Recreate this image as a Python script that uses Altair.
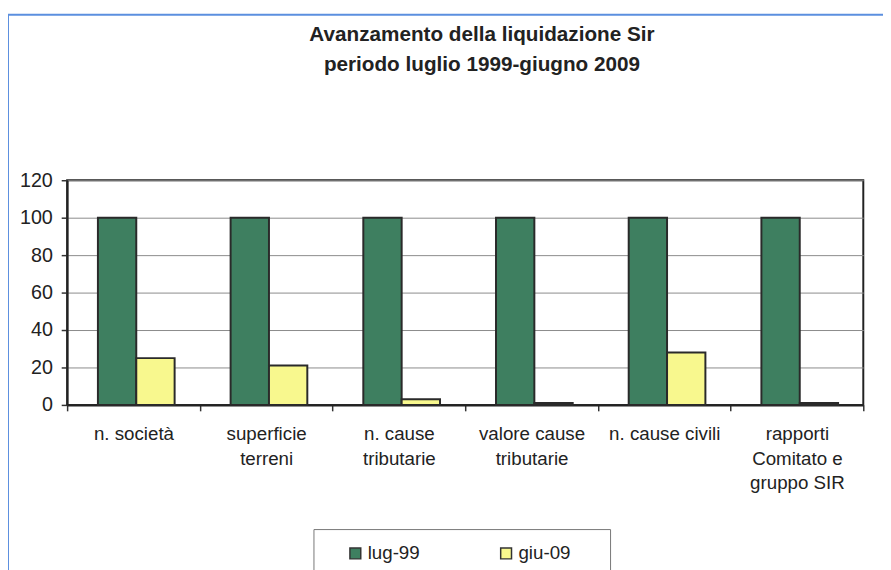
import altair as alt
import pandas as pd

categories = ["n. società", "superficie|terreni", "n. cause|tributarie",
              "valore cause|tributarie", "n. cause civili", "rapporti|Comitato e|gruppo SIR"]
series = ["lug-99", "giu-09"]
lug_99 = [100, 100, 100, 100, 100, 100]
giu_09 = [25, 21, 3, 1, 28, 1]
colors = ["#3e7f60", "#f8f88e"]
y_ticks = [0, 20, 40, 60, 80, 100, 120]
title_lines = ["Avanzamento della liquidazione Sir", "periodo luglio 1999-giugno 2009"]

rows = []
for c, a, b in zip(categories, lug_99, giu_09):
    rows.append({"categoria": c, "serie": series[0], "valore": a})
    rows.append({"categoria": c, "serie": series[1], "valore": b})
df = pd.DataFrame(rows)

FONT = "Liberation Sans"

bars = alt.Chart(df).mark_bar(stroke="#2a2a2a", strokeWidth=2).encode(
    x=alt.X("categoria:N", sort=categories,
            scale=alt.Scale(paddingInner=0, paddingOuter=0),
            axis=alt.Axis(title=None, labelAngle=0, tickBand="extent", grid=False,
                          labelExpr="split(datum.label, '|')",
                          labelFont=FONT, labelFontSize=19, labelLineHeight=25,
                          labelColor="#222", labelPadding=14, labelBaseline="top",
                          tickSize=6, tickColor="#333", tickWidth=1.5,
                          domainColor="#222", domainWidth=2, labelLimit=200)),
    xOffset=alt.XOffset("serie:N", sort=series,
                        scale=alt.Scale(paddingInner=0, paddingOuter=0.73, align=0.55)),
    y=alt.Y("valore:Q", scale=alt.Scale(domain=[0, 120]),
            axis=alt.Axis(title=None, values=y_ticks, grid=True, gridColor="#8a8a8a",
                          gridWidth=1, labelFont=FONT, labelFontSize=20, labelColor="#222",
                          labelPadding=9, tickSize=6, tickColor="#333", tickWidth=1.5,
                          domainColor="#222", domainWidth=2)),
    color=alt.Color("serie:N", sort=series,
                    scale=alt.Scale(domain=series, range=colors),
                    legend=alt.Legend(title="\u00a0", titleOrient="right", titlePadding=25,
                                      orient="none", legendX=250, legendY=354,
                                      direction="horizontal", strokeColor="#777",
                                      padding=15, symbolType="square", symbolSize=121,
                                      symbolStrokeColor="#333", symbolStrokeWidth=1.5,
                                      symbolOffset=18, labelOffset=3,
                                      labelFont=FONT, labelFontSize=19, labelColor="#222",
                                      columnPadding=60)),
)

frame_df = pd.DataFrame({"k": [0]})
frame_v = alt.Chart(frame_df).mark_rule(color="#5b8fdf", strokeWidth=2).encode(
    x=alt.value(-60), y=alt.value(-168), y2=alt.value(600))
frame_h = alt.Chart(frame_df).mark_rule(color="#5b8fdf", strokeWidth=2).encode(
    x=alt.value(-60), x2=alt.value(900), y=alt.value(-168))

chart = alt.layer(bars, frame_v, frame_h).properties(
    width=808, height=228,
    autosize=alt.AutoSizeParams(type="none"),
    padding={"left": 60, "top": 170, "right": 20, "bottom": 250},
    title=alt.Title(title_lines, fontSize=21, font=FONT, fontWeight="bold", color="#222",
                    anchor="middle", dx=17, dy=72, offset=10, lineHeight=30),
).configure_view(stroke="#222", strokeWidth=2)

chart.save("out.html", embed_options={"renderer": "svg", "actions": False})
